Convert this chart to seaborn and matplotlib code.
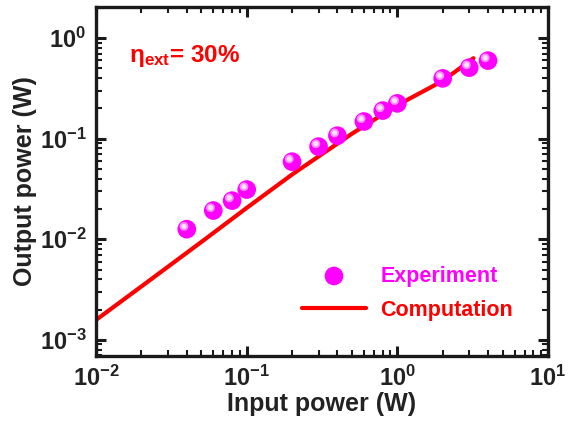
import matplotlib
matplotlib.use('Agg')
import matplotlib.pyplot as plt
import matplotlib.transforms as mtransforms
from matplotlib.ticker import FixedLocator, FixedFormatter, LogLocator, NullFormatter
import seaborn as sns
import pandas as pd

# experiment points
exp_x = [0.04, 0.06, 0.08, 0.1, 0.2, 0.3, 0.4, 0.6, 0.8, 1.0, 2.0, 3.0, 4.0]
exp_y = [0.0126, 0.0193, 0.0242, 0.0312, 0.059, 0.0833, 0.107, 0.148, 0.19, 0.224, 0.397, 0.507, 0.596]

# computed curve
comp_x = [0.01, 0.02, 0.05, 0.1, 0.2, 0.5, 1.0, 2.0, 3.2]
comp_y = [0.00158, 0.0034, 0.0094, 0.0205, 0.044, 0.112, 0.215, 0.375, 0.63]

xticks = [0.01, 0.1, 1, 10]
xticklabels = [r'$\mathbf{10^{-2}}$', r'$\mathbf{10^{-1}}$', r'$\mathbf{10^{0}}$', r'$\mathbf{10^{1}}$']
yticks = [0.001, 0.01, 0.1, 1]
yticklabels = [r'$\mathbf{10^{-3}}$', r'$\mathbf{10^{-2}}$', r'$\mathbf{10^{-1}}$', r'$\mathbf{10^{0}}$']

sns.set_theme(style='ticks')
plt.rcParams['font.family'] = ['Liberation Sans', 'DejaVu Sans']
plt.rcParams['mathtext.fontset'] = 'custom'
plt.rcParams['mathtext.rm'] = 'Liberation Sans'
plt.rcParams['mathtext.bf'] = 'Liberation Sans:bold'
plt.rcParams['mathtext.it'] = 'Liberation Sans:italic'

df_exp = pd.DataFrame({'x': exp_x, 'y': exp_y})
df_comp = pd.DataFrame({'x': comp_x, 'y': comp_y})

fig = plt.figure(figsize=(5.72, 4.28), dpi=100)
ax = fig.add_axes([0.168, 0.168, 0.79, 0.816])

sns.lineplot(data=df_comp, x='x', y='y', ax=ax, color='#ff0000', lw=3, label='Computation', zorder=2)
sns.scatterplot(data=df_exp, x='x', y='y', ax=ax, color='#ff00ff', s=180, edgecolor='none',
                label='Experiment', zorder=3)
# little highlight on each sphere
shift = mtransforms.ScaledTranslation(-2.0 / 72, 2.0 / 72, fig.dpi_scale_trans)
ax.scatter(exp_x, exp_y, s=40, color='#ff8cff', edgecolor='none', zorder=4,
           transform=ax.transData + shift)
ax.scatter(exp_x, exp_y, s=14, color='#ffe0ff', edgecolor='none', zorder=5,
           transform=ax.transData + shift)

ax.set_xscale('log')
ax.set_yscale('log')
ax.set_xlim(0.01, 10)
ax.set_ylim(6.9e-4, 2.04)

ax.xaxis.set_major_locator(FixedLocator(xticks))
ax.xaxis.set_major_formatter(FixedFormatter(xticklabels))
ax.yaxis.set_major_locator(FixedLocator(yticks))
ax.yaxis.set_major_formatter(FixedFormatter(yticklabels))
ax.xaxis.set_minor_locator(LogLocator(base=10, subs=range(2, 10)))
ax.yaxis.set_minor_locator(LogLocator(base=10, subs=range(2, 10)))
ax.xaxis.set_minor_formatter(NullFormatter())
ax.yaxis.set_minor_formatter(NullFormatter())

ax.tick_params(which='both', direction='in', top=True, right=True, color='#1a1a1a',
               labelcolor='#222222')
ax.tick_params(which='major', length=7, width=2.2, labelsize=17, pad=7)
ax.tick_params(which='minor', length=4, width=1.5)
for sp in ax.spines.values():
    sp.set_linewidth(2.4)
    sp.set_color('#1a1a1a')

ax.set_xlabel('Input power (W)', fontsize=18, fontweight='bold', color='#222222', labelpad=1)
ax.set_ylabel('Output power (W)', fontsize=18, fontweight='bold', color='#222222', labelpad=2)

ax.text(0.072, 0.858, r'η$_{\mathbf{ext}}$= 30%', transform=ax.transAxes, color='#ff0000',
        fontsize=17.5, fontweight='bold', va='center', ha='left')

handles, labels = ax.get_legend_handles_labels()
order = [labels.index('Experiment'), labels.index('Computation')]
leg = ax.legend([handles[i] for i in order], [labels[i] for i in order],
                loc='upper left', bbox_to_anchor=(0.455, 0.259), frameon=False,
                handlelength=3.0, handletextpad=0.65, labelspacing=0.6,
                borderpad=0, borderaxespad=0, markerscale=1.0,
                prop={'weight': 'bold', 'size': 15.5})
for t, c in zip(leg.get_texts(), ['#ff00ff', '#ff0000']):
    t.set_color(c)

fig.savefig('out.png', dpi=100)
